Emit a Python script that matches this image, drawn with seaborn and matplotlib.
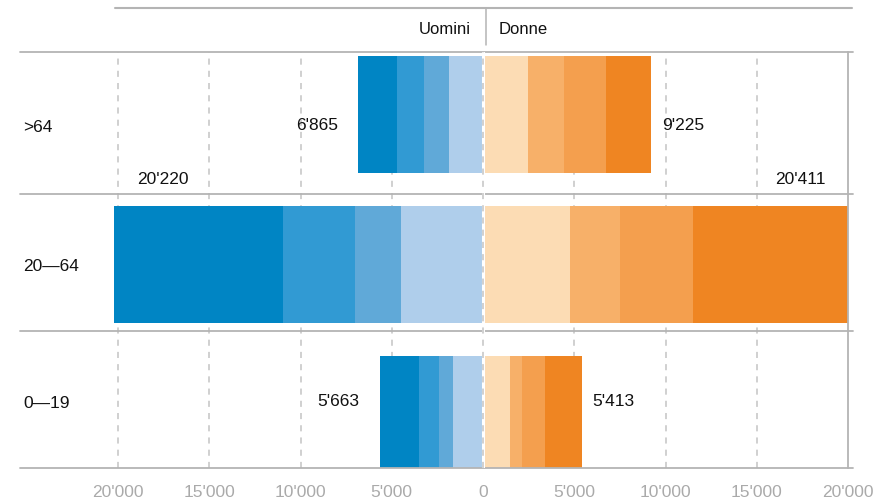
import numpy as np
import pandas as pd
import matplotlib
matplotlib.use("Agg")
import matplotlib.pyplot as plt
import matplotlib.transforms as mtransforms
from matplotlib.lines import Line2D
import seaborn as sns

# ---------------- data ----------------
age_groups = [">64", "20—64", "0—19"]
men_totals = [6865, 20220, 5663]
women_totals = [9225, 20411, 5413]

# segments from the centre (lightest) outwards (darkest)
men_seg1 = [1840, 4470, 1650]
men_seg2 = [1400, 2560, 775]
men_seg3 = [1460, 3920, 1100]
men_seg4 = [2165, 9270, 2138]
women_seg1 = [2455, 4760, 1460]
women_seg2 = [1965, 2740, 700]
women_seg3 = [2345, 4000, 1245]
women_seg4 = [2460, 8911, 2008]

men_colors = ["#afceeb", "#60a9d8", "#319ad3", "#0085c4"]
women_colors = ["#fcdcb4", "#f7b069", "#f49f4e", "#ef8522"]

tick_values = [-20000, -15000, -10000, -5000, 0, 5000, 10000, 15000, 20000]
header_men = "Uomini"
header_women = "Donne"

# ---------------- style ----------------
sns.set_theme(style="white")
plt.rcParams['font.family'] = ['Liberation Sans', 'DejaVu Sans']

GRAY = "#b4b4b4"
GRID = "#c4c4c4"
FS = 12.5

W, H = 879, 503
fig = plt.figure(figsize=(W / 100, H / 100), dpi=100)
ax = fig.add_axes([20 / W, 35 / H, 828 / W, 416 / H])

# stacked bars via seaborn, outermost cumulative first
men_segs = np.array([men_seg1, men_seg2, men_seg3, men_seg4])
women_segs = np.array([women_seg1, women_seg2, women_seg3, women_seg4])
men_cum = np.cumsum(men_segs, axis=0)
women_cum = np.cumsum(women_segs, axis=0)

for i in range(3, -1, -1):
    dfm = pd.DataFrame({"age": age_groups, "value": -men_cum[i]})
    sns.barplot(data=dfm, x="value", y="age", orient="h", order=age_groups,
                color=men_colors[i], saturation=1, width=0.78, ax=ax,
                linewidth=0, zorder=2)
    dfw = pd.DataFrame({"age": age_groups, "value": women_cum[i]})
    sns.barplot(data=dfw, x="value", y="age", orient="h", order=age_groups,
                color=women_colors[i], saturation=1, width=0.78, ax=ax,
                linewidth=0, zorder=2)

ax.set_xlim(-25370, 20000)
ax.set_ylim(2.357, -0.417)

# grid
for v in tick_values:
    if v in (0, 20000):
        continue
    ax.axvline(v, color=GRID, lw=1.1, ls=(0, (4, 4)), zorder=1)
ax.axvline(0, color="white", lw=2.2, zorder=5)
ax.axvline(0, color=GRID, lw=1.1, ls=(0, (4, 4)), zorder=6)

# row separators
separators = [-0.417, 0.530, 1.443, 2.357]
for s in separators:
    ax.axhline(s, xmin=0, xmax=1.006, color=GRAY, lw=1.3, clip_on=False, zorder=3)

for side in ["top", "bottom", "left"]:
    ax.spines[side].set_visible(False)
ax.spines["right"].set_color(GRAY)
ax.spines["right"].set_linewidth(1.3)

# ticks
ax.set_xticks(tick_values)
ax.set_xticklabels([f"{abs(v):,}".replace(",", "'") for v in tick_values])
ax.tick_params(axis="x", length=0, pad=12, labelsize=FS, labelcolor="#aaaaaa")
ax.set_yticks([])
ax.set_xlabel("")
ax.set_ylabel("")

# row labels
mids = [(separators[k] + separators[k + 1]) / 2 for k in range(3)]
trans = mtransforms.blended_transform_factory(ax.transAxes, ax.transData)
for k, lab in enumerate(age_groups):
    ax.annotate(lab, (3 / 828, mids[k]), xycoords=trans,
                xytext=(0, -4), textcoords="offset pixels",
                ha="left", va="center", fontsize=FS, color="#111111")

def fmt(v):
    return f"{v:,}".replace(",", "'")

# value labels
xmax = ax.get_xlim()[1]
for k in range(3):
    if k == 1:
        ax.annotate(fmt(men_totals[k]), (-men_totals[k], k - 0.57),
                    xytext=(23, 0), textcoords="offset pixels",
                    ha="left", va="center", fontsize=FS, color="#111111")
        ax.annotate(fmt(women_totals[k]), (min(women_totals[k], xmax), k - 0.57),
                    xytext=(-22, 0), textcoords="offset pixels",
                    ha="right", va="center", fontsize=FS, color="#111111")
    else:
        ax.annotate(fmt(men_totals[k]), (-men_totals[k], mids[k]),
                    xytext=(-20, -2), textcoords="offset pixels",
                    ha="right", va="center", fontsize=FS, color="#111111")
        ax.annotate(fmt(women_totals[k]), (women_totals[k], mids[k]),
                    xytext=(11, -2), textcoords="offset pixels",
                    ha="left", va="center", fontsize=FS, color="#111111")

# header
fig.add_artist(Line2D([115 / W, 852 / W], [1 - 8 / H, 1 - 8 / H], color=GRAY, lw=1.5))
fig.add_artist(Line2D([486 / W, 486 / W], [1 - 8 / H, 1 - 45 / H], color=GRAY, lw=1.1))
fig.text(471 / W, 1 - 30 / H, header_men, ha="right", va="center", fontsize=FS - 0.5, color="#111111")
fig.text(499 / W, 1 - 30 / H, header_women, ha="left", va="center", fontsize=FS - 0.5, color="#111111")

fig.savefig("out.png", dpi=100)
